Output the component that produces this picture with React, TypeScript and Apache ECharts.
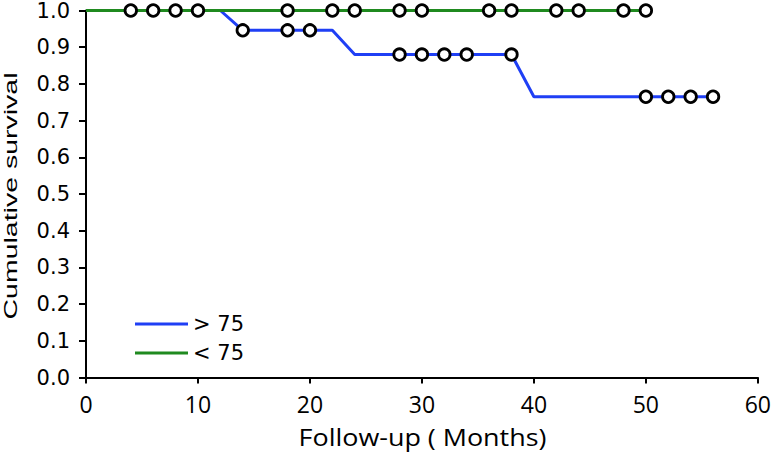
import React, { useEffect, useRef } from "react";
import * as echarts from "echarts";

// Kaplan-Meier step points (month, cumulative survival)
const over75Times = [0, 12, 14, 22, 24, 38, 40, 56];
const over75Surv = [1.0, 1.0, 0.946, 0.946, 0.88, 0.88, 0.765, 0.765];
const under75Times = [0, 50];
const under75Surv = [1.0, 1.0];

// censored observations
const over75CensorTimes = [14, 18, 20, 28, 30, 32, 34, 38, 50, 52, 54, 56];
const over75CensorSurv = [0.946, 0.946, 0.946, 0.88, 0.88, 0.88, 0.88, 0.88, 0.765, 0.765, 0.765, 0.765];
const under75CensorTimes = [4, 6, 8, 10, 18, 22, 24, 28, 30, 36, 38, 42, 44, 48, 50];
const under75CensorSurv = [1, 1, 1, 1, 1, 1, 1, 1, 1, 1, 1, 1, 1, 1, 1];

const seriesNames = ["> 75", "< 75"];
const xTitle = "Follow-up ( Months)";
const yTitle = "Cumulative survival";

const BLUE = "#1f3ff5";
const GREEN = "#1f8a1f";

const zip = (xs: number[], ys: number[]) => xs.map((x, i) => [x, ys[i]]);

export default function App() {
  const ref = useRef<HTMLDivElement>(null);
  useEffect(() => {
    if (!ref.current) return;
    const chart = echarts.init(ref.current, null, { renderer: "svg" });
    const censorStyle = {
      symbol: "circle",
      symbolSize: 11.5,
      z: 5,
      itemStyle: { color: "#ffffff", borderColor: "#000000", borderWidth: 2.8, opacity: 1 },
      clip: false,
      silent: true,
    };
    chart.setOption({
      animation: false,
      backgroundColor: "#ffffff",
      grid: { left: 86, right: 16, top: 9.5, bottom: 79.5, containLabel: false },
      xAxis: {
        type: "value",
        min: 0,
        max: 60,
        interval: 10,
        axisLine: { show: true, lineStyle: { color: "#000", width: 2 } },
        axisTick: { show: true, inside: false, length: 6, lineStyle: { color: "#000", width: 2 } },
        axisLabel: { fontFamily: "Open Sans", fontSize: 23, color: "#000", margin: 15 },
        splitLine: { show: false },
      },
      yAxis: {
        type: "value",
        min: 0,
        max: 1,
        interval: 0.1,
        axisLine: { show: true, lineStyle: { color: "#000", width: 2 } },
        axisTick: { show: true, inside: false, length: 7, lineStyle: { color: "#000", width: 2 } },
        axisLabel: {
          fontFamily: "DejaVu Sans",
          fontSize: 21,
          color: "#000",
          margin: 16,
          formatter: (v: number) => v.toFixed(1),
        },
        splitLine: { show: false },
      },
      legend: {
        orient: "vertical",
        left: 130,
        top: 308.5,
        itemWidth: 53,
        itemHeight: 3,
        itemGap: 8,
        data: [
          { name: seriesNames[0], icon: "rect" },
          { name: seriesNames[1], icon: "rect" },
        ],
        textStyle: { fontFamily: "DejaVu Sans", fontSize: 21, lineHeight: 21, color: "#000" },
      },
      graphic: [
        {
          type: "text",
          x: 422.5,
          y: 437,
          scaleX: 1.17,
          silent: true,
          style: {
            text: xTitle,
            fontFamily: "Open Sans",
            fontSize: 23,
            fill: "#000",
            align: "center",
            textAlign: "center",
            verticalAlign: "middle",
            textVerticalAlign: "middle",
          },
        },
        {
          type: "text",
          x: 10.5,
          y: 196,
          rotation: Math.PI / 2,
          scaleX: 1.5,
          silent: true,
          style: {
            text: yTitle,
            fontFamily: "Liberation Sans",
            fontSize: 19,
            fill: "#000",
            align: "center",
            textAlign: "center",
            verticalAlign: "middle",
            textVerticalAlign: "middle",
          },
        },
      ],
      series: [
        {
          name: seriesNames[0],
          type: "line",
          data: zip(over75Times, over75Surv),
          showSymbol: false,
          symbol: "none",
          color: BLUE,
          lineStyle: { color: BLUE, width: 3 },
          clip: false,
        },
        {
          name: seriesNames[1],
          type: "line",
          data: zip(under75Times, under75Surv),
          showSymbol: false,
          symbol: "none",
          color: GREEN,
          lineStyle: { color: GREEN, width: 3 },
          clip: false,
        },
        {
          name: "censored > 75",
          type: "scatter",
          data: zip(over75CensorTimes, over75CensorSurv),
          ...censorStyle,
        },
        {
          name: "censored < 75",
          type: "scatter",
          data: zip(under75CensorTimes, under75CensorSurv),
          ...censorStyle,
        },
      ],
    });
    return () => chart.dispose();
  }, []);
  return (
    <div
      ref={ref}
      style={{ position: "fixed", left: 0, top: 0, width: 774, height: 457, background: "#fff" }}
    />
  );
}
